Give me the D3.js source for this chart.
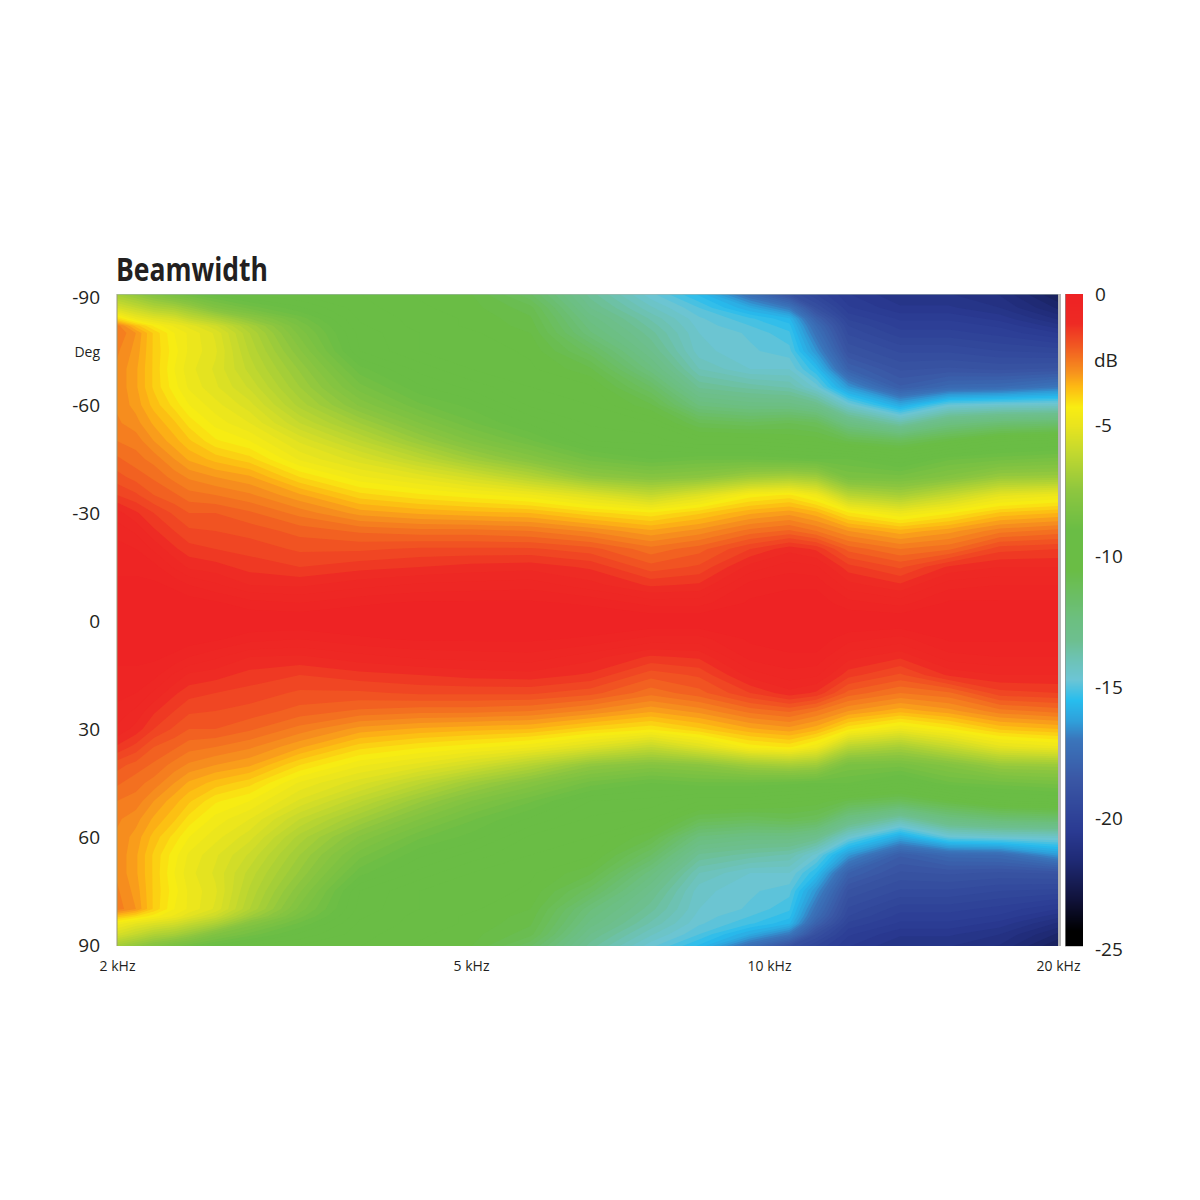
<!DOCTYPE html>
<html><head><meta charset="utf-8">
<script src="https://cdn.jsdelivr.net/npm/d3@7"></script>
<style>html,body{margin:0;background:#fff}svg{display:block}text{fill:#231f20}</style>
</head><body><svg id="c" width="1200" height="1200"></svg>
<script>
const title = "Beamwidth";
const freqTicks = [2,5,10,20];
const freqTickLabels = ["2 kHz","5 kHz","10 kHz","20 kHz"];
const angleTicks = [-90,-60,-30,0,30,60,90];
const dbTicks = [0,-5,-10,-15,-20,-25];
const freqs = [2,2.1,2.2,2.32,2.41,2.58,2.82,3.21,3.75,4.38,5,5.74,6.6,7.6,8.5,9.57,10.5,11.2,12.1,13.7,15.4,17.4,20];
const angles = [-91,-87,-84,-82,-80,-75,-70,-65,-60,-55,-50,-45,-40,-35,-30,-25,-20,-15,-10,-5,0,5,10,15,20,25,30,35,40,45,50,55,60,65,70,75,80,82,84,87,90.5];
// one list per frequency, top (-91 deg) to bottom (+90.5 deg), in dB
const levelsByFreq = [
[-7,-5.5,-4,-2.6,-2.5,-2.7,-2.8,-2.8,-2.8,-2.7,-2.5,-2.2,-1.9,-1.5,-.9,-.6,-.4,-.3,-.2,-.1,0,-.1,-.2,-.3,-.4,-.6,-.8,-1.3,-1.9,-2.2,-2.5,-2.7,-2.8,-2.8,-2.8,-2.7,-2.6,-3.6,-4.6,-5.5,-7],
[-7.5,-6,-4.8,-3.6,-3,-3.1,-3.2,-3.2,-3.1,-2.9,-2.6,-2.4,-2.1,-1.7,-1.2,-.8,-.5,-.3,-.2,-.1,0,-.1,-.2,-.3,-.5,-.8,-1.1,-1.6,-2.1,-2.4,-2.6,-2.9,-3.1,-3.2,-3.2,-3.1,-3,-4,-5,-6,-7.5],
[-8,-6.5,-5.2,-4.3,-3.8,-3.8,-3.8,-3.8,-3.6,-3.3,-3,-2.6,-2.3,-2,-1.5,-1.2,-.8,-.4,-.2,-.1,0,-.1,-.2,-.4,-.8,-1.2,-1.5,-2,-2.3,-2.6,-3,-3.3,-3.6,-3.8,-3.8,-3.8,-3.8,-4.4,-5.3,-6.5,-8],
[-8.5,-6.8,-5.5,-4.8,-4.5,-4.4,-4.5,-4.4,-4.1,-3.7,-3.4,-3,-2.6,-2.2,-1.8,-1.5,-1.2,-.8,-.3,-.1,0,-.1,-.3,-.8,-1.2,-1.5,-1.8,-2.2,-2.6,-3,-3.4,-3.7,-4.1,-4.4,-4.5,-4.4,-4.5,-4.8,-5.6,-6.8,-8.5],
[-8.8,-7.2,-6,-5.1,-4.8,-4.8,-4.9,-4.8,-4.5,-4.1,-3.7,-3.3,-2.8,-2.4,-2,-1.7,-1.4,-1.05,-.5,-.1,0,-.1,-.5,-1.05,-1.4,-1.7,-2,-2.4,-2.8,-3.3,-3.7,-4.1,-4.5,-4.8,-4.9,-4.8,-4.8,-5.2,-6,-7.2,-8.8],
[-9.2,-8,-6.6,-5.7,-5.3,-5.2,-5.3,-5.2,-4.9,-4.6,-4.2,-3.6,-3,-2.5,-2,-1.75,-1.5,-1.15,-.7,-.2,0,-.2,-.7,-1.15,-1.5,-1.75,-2,-2.5,-3,-3.6,-4.2,-4.6,-4.9,-5.2,-5.3,-5.2,-5.3,-5.8,-6.6,-8,-9.2],
[-9.6,-8.6,-7.5,-6.8,-6.5,-6.3,-6.1,-5.8,-5.4,-5,-4.5,-3.9,-3.2,-2.7,-2.2,-1.85,-1.6,-1.35,-1,-.4,0,-.4,-1,-1.35,-1.6,-1.85,-2.2,-2.7,-3.2,-3.9,-4.5,-5,-5.4,-5.8,-6.1,-6.3,-6.5,-7,-7.8,-8.6,-9.6],
[-9.8,-9.2,-8.6,-8.3,-8.1,-7.7,-7.3,-7,-6.6,-6,-5.3,-4.8,-4,-3.2,-2.6,-2.1,-1.8,-1.5,-1.05,-.5,0,-.5,-1.05,-1.5,-1.8,-2.1,-2.6,-3.2,-4,-4.8,-5.3,-6,-6.6,-7,-7.3,-7.7,-8.1,-8.4,-8.8,-9.3,-9.8],
[-10,-9.9,-9.8,-9.7,-9.6,-9.5,-8.9,-8.4,-7.8,-7,-6.2,-5.4,-4.7,-3.9,-3.1,-2.3,-1.8,-1.35,-.85,-.3,0,-.3,-.85,-1.35,-1.8,-2.3,-3.1,-3.9,-4.7,-5.4,-6.2,-7,-7.8,-8.4,-8.9,-9.5,-9.6,-9.7,-9.8,-9.9,-10],
[-10.3,-10.2,-10.1,-10.1,-10,-10,-9.6,-9.2,-8.7,-8,-7.2,-6.2,-5.1,-4.2,-3.3,-2.4,-1.7,-1.25,-.7,-.2,0,-.2,-.7,-1.25,-1.7,-2.4,-3.3,-4.2,-5.1,-6.2,-7.2,-8,-8.7,-9.2,-9.6,-10,-10,-10.1,-10.1,-10.2,-10.3],
[-10.5,-10.4,-10.3,-10.3,-10.2,-10.1,-10,-9.6,-9.1,-8.7,-8,-7,-5.6,-4.4,-3.4,-2.4,-1.7,-1.15,-.65,-.2,0,-.2,-.65,-1.15,-1.7,-2.4,-3.4,-4.4,-5.6,-7,-8,-8.7,-9.1,-9.6,-10,-10.1,-10.2,-10.3,-10.3,-10.4,-10.5],
[-11.5,-10.9,-10.7,-10.6,-10.5,-10.3,-10.2,-10,-9.8,-9.3,-8.7,-7.8,-6.4,-4.7,-3.5,-2.5,-1.7,-1.1,-.6,-.2,0,-.2,-.6,-1.1,-1.7,-2.5,-3.5,-4.7,-6.4,-7.8,-8.7,-9.3,-9.8,-10,-10.2,-10.3,-10.5,-10.6,-10.7,-10.9,-11.5],
[-13.4,-13,-12.6,-12.4,-12.2,-11.4,-10.7,-10.2,-10,-9.8,-9.5,-8.6,-7.4,-5.3,-3.9,-2.8,-1.9,-1.3,-.9,-.3,0,-.3,-.9,-1.3,-1.9,-2.8,-3.9,-5.3,-7.4,-8.6,-9.5,-9.8,-10,-10.2,-10.7,-11.4,-12.2,-12.4,-12.6,-13,-13.4],
[-14.7,-14.2,-13.8,-13.6,-13.4,-13,-12.4,-11.5,-10.7,-10,-9.6,-9,-7.8,-6,-4.2,-3.2,-2.4,-1.9,-1.3,-.6,0,-.6,-1.3,-1.9,-2.4,-3.2,-4.2,-6,-7.8,-9,-9.6,-10,-10.7,-11.5,-12.4,-13,-13.4,-13.6,-13.8,-14.2,-14.7],
[-15.6,-15,-14.7,-14.6,-14.5,-14.4,-14,-13.3,-12.3,-11,-10,-8.8,-7.6,-5.3,-3.8,-2.9,-2.1,-1.7,-1.2,-.6,0,-.6,-1.2,-1.7,-2.1,-2.9,-3.8,-5.3,-7.6,-8.8,-10,-11,-12.3,-13.3,-14,-14.4,-14.5,-14.6,-14.7,-15,-15.6],
[-17.5,-16,-15.2,-15,-14.8,-14.7,-14.5,-13.6,-12.6,-11.2,-10,-8.8,-7,-4.4,-3.3,-2.4,-1.5,-.9,-.4,-.2,0,-.2,-.4,-.9,-1.5,-2.4,-3.3,-4.4,-7,-8.8,-10,-11.2,-12.6,-13.6,-14.5,-14.7,-14.8,-15,-15.2,-16,-17.5],
[-19,-17,-15.7,-15.4,-15.2,-14.9,-14.5,-13.8,-12.6,-11,-10.2,-8.9,-6.8,-4.2,-3.1,-2.2,-1.1,-.6,-.3,-.1,0,-.1,-.3,-.6,-1.1,-2.2,-3.1,-4.2,-6.8,-8.9,-10.2,-11,-12.6,-13.8,-14.5,-14.9,-15.2,-15.4,-15.7,-17,-19],
[-19.8,-19,-18,-17.5,-17.2,-16.5,-15.5,-14.6,-13,-11.2,-10.3,-9,-7,-4.7,-3.4,-2.5,-1.3,-.7,-.3,-.1,0,-.1,-.3,-.7,-1.3,-2.5,-3.4,-4.7,-7,-9,-10.3,-11.2,-13,-14.6,-15.5,-16.5,-17.2,-17.5,-18,-19,-19.8],
[-20.5,-20.2,-19.8,-19.5,-19.3,-18.8,-18,-16.4,-14.5,-12.6,-10.8,-9,-8.3,-6.3,-4.2,-3,-2.1,-1.4,-.9,-.4,0,-.4,-.9,-1.4,-2.1,-3,-4.2,-6.3,-8.3,-9,-10.8,-12.6,-14.5,-16.4,-18,-18.8,-19.3,-19.5,-19.8,-20.2,-20.5],
[-21,-20.7,-20.3,-20.1,-19.9,-19.3,-18.8,-18.2,-16,-13.7,-11.2,-9.5,-8.4,-6.8,-4.8,-3.4,-2.5,-1.8,-1.2,-.6,0,-.6,-1.2,-1.8,-2.5,-3.4,-4.8,-6.8,-8.4,-9.5,-11.2,-13.7,-16,-18.2,-18.8,-19.3,-19.9,-20.1,-20.3,-20.7,-21],
[-21,-20.7,-20.3,-20.1,-19.9,-19.3,-18.7,-17.6,-14.7,-12.5,-10.5,-8.8,-7.9,-6,-4.3,-3.1,-2.3,-1.2,-.6,-.2,0,-.2,-.6,-1.2,-2.3,-3.1,-4.3,-6,-7.9,-8.8,-10.5,-12.5,-14.7,-17.6,-18.7,-19.3,-19.9,-20.1,-20.3,-20.7,-21],
[-21.3,-21,-20.6,-20.3,-20.1,-19.5,-18.8,-17.5,-14.5,-12,-9.8,-8.6,-7.2,-5.1,-3.7,-2.6,-1.6,-1,-.5,-.2,0,-.2,-.5,-1,-1.6,-2.6,-3.7,-5.1,-7.2,-8.6,-9.8,-12,-14.5,-17.5,-18.8,-19.5,-20.1,-20.3,-20.6,-21,-21.3],
[-22.3,-21.8,-21.3,-20.9,-20.5,-19.6,-18.7,-17,-14.4,-11.8,-9.6,-8.4,-7.1,-4.8,-3.5,-2.4,-1.5,-1,-.5,-.2,0,-.2,-.5,-1,-1.5,-2.4,-3.5,-4.8,-7.1,-8.4,-9.6,-11.8,-14.4,-16.4,-18.7,-19.6,-20.5,-20.9,-21.3,-21.8,-22.3]
];
const colorStops = [0,-1.1,-2,-3,-3.5,-4.3,-5,-6,-7.5,-9,-10.5,-12.4,-13.2,-14,-14.7,-15.5,-16.3,-17,-18.5,-20.5,-21.6,-23.1,-24.3,-25];
const colorValues = ["#ee2224","#ee2a24","#f15a22","#f7941d","#fdb813","#f9ed12","#e9e41e","#c4d92e","#8dc63f","#6abd45","#6abd45","#6cbf80","#6dbf8f","#6dc3b8","#6cc5d5","#27bdee","#2f9fda","#3a75bb","#3a57a5","#2a3a92","#1f2a75","#10123a","#000000","#000000"];

const svg = d3.select("#c");
const font = "'Open Sans',sans-serif";
const x = d3.scaleLog().domain(freqTicks).range([117,471,769,1058]);
const y = d3.scaleLinear().domain([-90,90]).range([297,945]);
const color = d3.scaleLinear().domain(colorStops).range(colorValues).clamp(true);
const dbScale = d3.scaleLinear().domain([0,-25]).range([294,949]);

const nx = freqs.length, ny = angles.length;
const flat = [];
for (let j=0;j<ny;j++) for (let i=0;i<nx;i++) flat.push(levelsByFreq[i][j]);
const xi = d3.scaleLinear().domain(freqs.map((_,i)=>i+.5)).range(freqs.map(f=>x(f))).clamp(true);
const yi = d3.scaleLinear().domain(angles.map((_,i)=>i+.5)).range(angles.map(a=>y(a))).clamp(true);
const path = d3.geoPath(d3.geoTransform({point(px,py){this.stream.point(xi(px),yi(py));}}));
const thresholds = d3.range(-24.75,-0.1,0.25);
const contours = d3.contours().size([nx,ny]).thresholds(thresholds)(flat);

svg.append("clipPath").attr("id","plot").append("rect").attr("x",117).attr("y",294).attr("width",941).attr("height",652);
const g = svg.append("g").attr("clip-path","url(#plot)");
g.append("rect").attr("x",117).attr("y",294).attr("width",941).attr("height",652).attr("fill",color(-25));
g.selectAll("path").data(contours).join("path").attr("d",path).attr("fill",d=>color(d.value+0.125));

// frame
svg.append("line").attr("x1",117).attr("x2",117).attr("y1",294).attr("y2",946).attr("stroke","#9a9a7a").attr("stroke-width",1);
svg.append("line").attr("x1",1059.5).attr("x2",1059.5).attr("y1",294).attr("y2",946).attr("stroke","#b4b4b4").attr("stroke-width",3);
svg.append("line").attr("x1",117).attr("x2",1058).attr("y1",294.5).attr("y2",294.5).attr("stroke","#a9b7b0").attr("stroke-width",1).attr("opacity",.6);

// title
svg.append("text").attr("x",116).attr("y",281).text(title)
  .style("font-family",font).style("font-weight",700).style("font-size","33px")
  .attr("textLength",152).attr("lengthAdjust","spacingAndGlyphs");

// axes
const yAxis = svg.append("g").attr("transform","translate(100,0)")
  .call(d3.axisLeft(y).tickValues(angleTicks).tickSize(0).tickPadding(0).tickFormat(String));
yAxis.select(".domain").remove();
yAxis.selectAll("text").style("font-family",font).style("font-size","19px");
svg.append("text").attr("x",100).attr("y",357).attr("text-anchor","end").text("Deg").style("font-family",font).style("font-size","14px");

const xAxis = svg.append("g").attr("transform","translate(0,961)")
  .call(d3.axisBottom(x).tickValues(freqTicks).tickSize(0).tickPadding(0).tickFormat((d,i)=>freqTickLabels[i]));
xAxis.select(".domain").remove();
xAxis.selectAll("text").style("font-family",font).style("font-size","14px").attr("dy","0.7em");

// colour bar
const bar = svg.append("g");
bar.selectAll("rect").data(d3.range(294,946)).join("rect")
  .attr("x",1065).attr("y",d=>d).attr("width",18).attr("height",1.2)
  .attr("fill",d=>color(dbScale.invert(d)));
bar.append("line").attr("x1",1065.5).attr("x2",1065.5).attr("y1",294).attr("y2",946).attr("stroke","#8f8f8f").attr("opacity",.7);
const dbAxis = svg.append("g").attr("transform","translate(1095,0)")
  .call(d3.axisRight(dbScale).tickValues(dbTicks).tickSize(0).tickPadding(0).tickFormat(String));
dbAxis.select(".domain").remove();
dbAxis.selectAll("text").style("font-family",font).style("font-size","19px");
svg.append("text").attr("x",1094).attr("y",367).text("dB").style("font-family",font).style("font-size","19px");
</script></body></html>
